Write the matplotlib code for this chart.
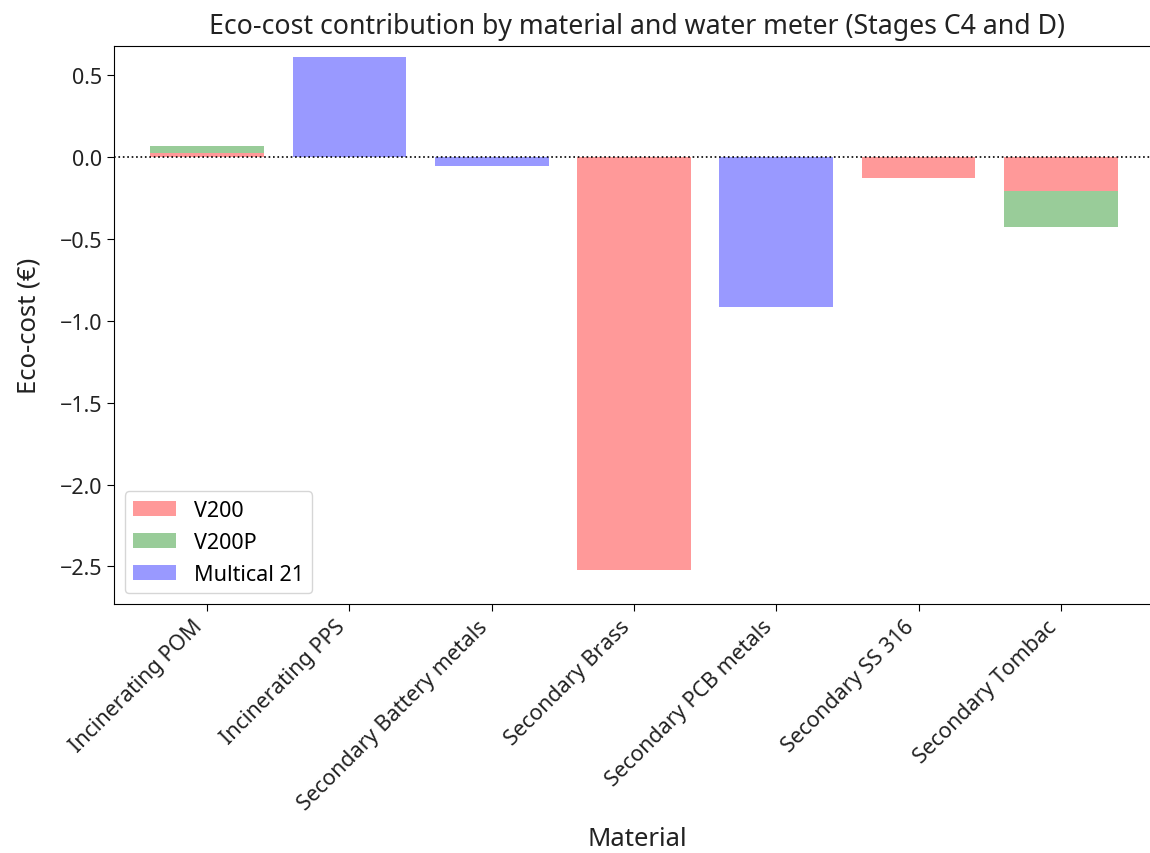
import matplotlib
matplotlib.use("Agg")
import matplotlib.pyplot as plt
import numpy as np

plt.rcParams["font.family"] = ["Noto Sans", "DejaVu Sans"]

materials = [
    "Incinerating POM",
    "Incinerating PPS",
    "Secondary Battery metals",
    "Secondary Brass",
    "Secondary PCB metals",
    "Secondary SS 316",
    "Secondary Tombac",
]
meters = ["V200", "V200P", "Multical 21"]
colors = ["red", "green", "blue"]

v200 = [0.025, 0.0, 0.0, -2.52, 0.0, -0.128, -0.207]
v200p = [0.045, 0.0, 0.0, 0.0, 0.0, 0.0, -0.22]
multical21 = [0.0, 0.615, -0.055, 0.0, -0.915, 0.0, 0.0]

series = [v200, v200p, multical21]

fig = plt.figure(figsize=(11.5, 8.54), dpi=100)
ax = fig.add_axes([0.0991, 0.2916, 0.91, 0.6534])

x = np.arange(len(materials))
pos_base = np.zeros(len(materials))
neg_base = np.zeros(len(materials))
for name, vals, c in zip(meters, series, colors):
    vals = np.asarray(vals)
    bottom = np.where(vals >= 0, pos_base, neg_base)
    ax.bar(x, vals, width=0.8, bottom=bottom, color=c, alpha=0.4, label=name)
    pos_base = pos_base + np.clip(vals, 0, None)
    neg_base = neg_base + np.clip(vals, None, 0)

ax.axhline(0, color="black", linestyle=":", linewidth=1.2)

ax.set_xticks(x)
ax.set_xticklabels(materials, rotation=45, ha="right", fontsize=15.5, color="#222222")
ax.tick_params(axis="y", labelsize=15.5, labelcolor="#222222")
ax.tick_params(length=5)
ax.set_xlim(-0.655, 6.70)
ax.set_ylim(-2.73, 0.68)
ax.set_xlabel("Material", fontsize=18.5, labelpad=9, color="#222222")
ax.set_ylabel("Eco-cost (€)", fontsize=18.5, labelpad=13, color="#222222")
ax.set_title("Eco-cost contribution by material and water meter (Stages C4 and D)",
             fontsize=19.2, pad=9, color="#222222")
ax.legend(loc="lower left", fontsize=15.5)

fig.savefig("out.png", dpi=100)
